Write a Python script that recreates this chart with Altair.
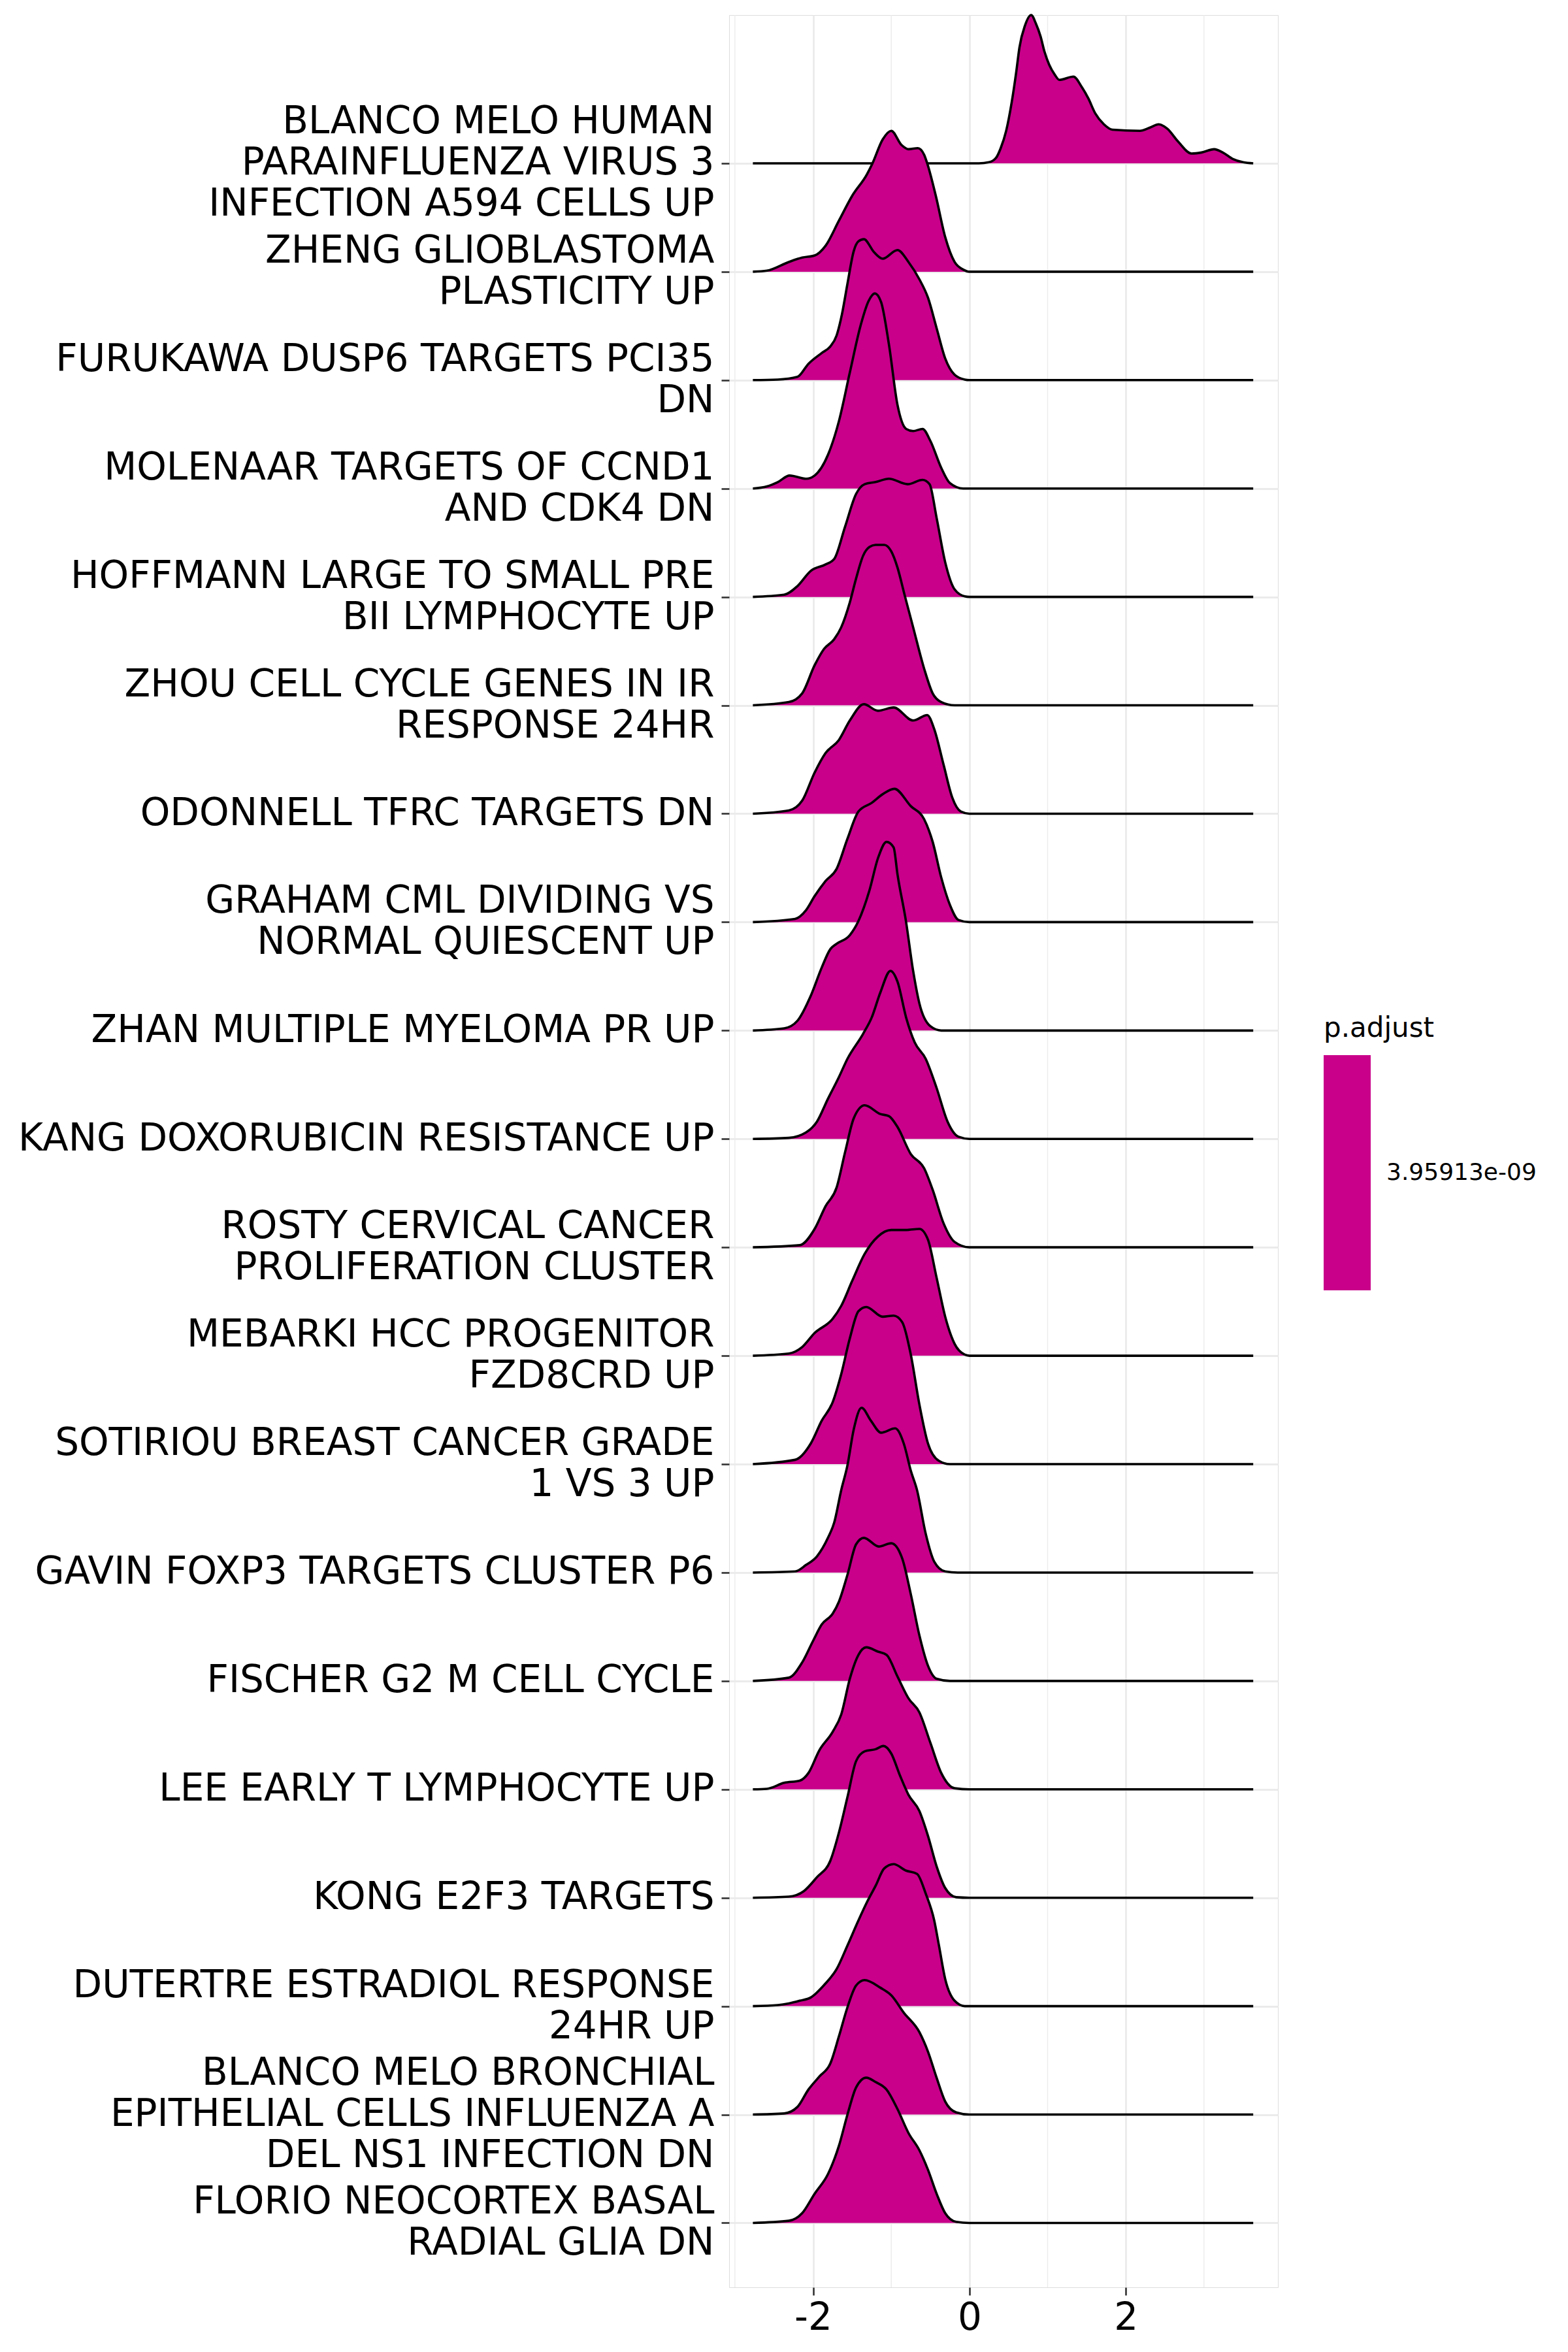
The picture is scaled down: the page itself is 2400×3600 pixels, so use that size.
import altair as alt
import pandas as pd

FILL = "#C8008A"
PADJ = 3.95913e-09
FONT = "DejaVu Sans"

# Category labels, top to bottom ("|" marks a line break)
labels = [
    "BLANCO MELO HUMAN|PARAINFLUENZA VIRUS 3|INFECTION A594 CELLS UP",
    "ZHENG GLIOBLASTOMA|PLASTICITY UP",
    "FURUKAWA DUSP6 TARGETS PCI35|DN",
    "MOLENAAR TARGETS OF CCND1|AND CDK4 DN",
    "HOFFMANN LARGE TO SMALL PRE|BII LYMPHOCYTE UP",
    "ZHOU CELL CYCLE GENES IN IR|RESPONSE 24HR",
    "ODONNELL TFRC TARGETS DN",
    "GRAHAM CML DIVIDING VS|NORMAL QUIESCENT UP",
    "ZHAN MULTIPLE MYELOMA PR UP",
    "KANG DOXORUBICIN RESISTANCE UP",
    "ROSTY CERVICAL CANCER|PROLIFERATION CLUSTER",
    "MEBARKI HCC PROGENITOR|FZD8CRD UP",
    "SOTIRIOU BREAST CANCER GRADE|1 VS 3 UP",
    "GAVIN FOXP3 TARGETS CLUSTER P6",
    "FISCHER G2 M CELL CYCLE",
    "LEE EARLY T LYMPHOCYTE UP",
    "KONG E2F3 TARGETS",
    "DUTERTRE ESTRADIOL RESPONSE|24HR UP",
    "BLANCO MELO BRONCHIAL|EPITHELIAL CELLS INFLUENZA A|DEL NS1 INFECTION DN",
    "FLORIO NEOCORTEX BASAL|RADIAL GLIA DN",
]

# Density curves: x value, ridge height (in row units)
x01 = [-2.77, 0.12, 0.25, 0.34, 0.40, 0.47, 0.54, 0.60, 0.64, 0.71, 0.79, 0.85, 0.91, 0.96, 1.02, 1.09,
       1.15, 1.33, 1.44, 1.52, 1.61, 1.72, 1.83, 2.18, 2.31, 2.42, 2.53, 2.67, 2.84, 2.97, 3.13, 3.24,
       3.37, 3.50, 3.63]
h01 = [0, 0, 0.01, 0.05, 0.14, 0.30, 0.56, 0.85, 1.07, 1.27, 1.368, 1.29, 1.17, 1.03, 0.91, 0.82,
       0.77, 0.80, 0.70, 0.60, 0.46, 0.36, 0.31, 0.30, 0.33, 0.36, 0.32, 0.20, 0.09, 0.10, 0.13, 0.10,
       0.04, 0.01, 0]

x02 = [-2.77, -2.59, -2.31, -2.14, -1.98, -1.84, -1.67, -1.50, -1.31, -1.24, -1.11, -1.00, -0.87,
       -0.78, -0.66, -0.58, -0.54, -0.43, -0.31, -0.19, -0.08, 0.0, 3.63]
h02 = [0, 0.01, 0.09, 0.13, 0.15, 0.24, 0.47, 0.70, 0.90, 1.0, 1.22, 1.30, 1.17,
       1.13, 1.14, 1.08, 1.0, 0.70, 0.32, 0.09, 0.02, 0, 0]

x03 = [-2.77, -2.45, -2.20, -2.06, -1.89, -1.78, -1.70, -1.63, -1.56, -1.48, -1.42, -1.35, -1.22,
       -1.11, -0.92, -0.78, -0.64, -0.53, -0.42, -0.31, -0.19, -0.06, 0.0, 3.63]
h03 = [0, 0.005, 0.03, 0.15, 0.25, 0.31, 0.41, 0.61, 0.89, 1.19, 1.28, 1.30, 1.18,
       1.12, 1.20, 1.09, 0.93, 0.76, 0.48, 0.20, 0.05, 0.005, 0, 0]

x04 = [-2.77, -2.59, -2.45, -2.30, -2.09, -1.98, -1.81, -1.67, -1.53, -1.39, -1.29, -1.21, -1.13,
       -1.03, -0.92, -0.81, -0.72, -0.60, -0.50, -0.36, -0.25, -0.08, 0.0, 3.63]
h04 = [0, 0.02, 0.06, 0.12, 0.09, 0.12, 0.31, 0.62, 1.07, 1.51, 1.73, 1.80, 1.72,
       1.33, 0.77, 0.55, 0.53, 0.55, 0.44, 0.19, 0.05, 0.0, 0, 0]

x05 = [-2.77, -2.37, -2.20, -2.03, -1.84, -1.73, -1.59, -1.45, -1.34, -1.20, -1.03, -0.79, -0.60,
       -0.51, -0.42, -0.31, -0.19, -0.06, 0.0, 3.63]
h05 = [0, 0.02, 0.10, 0.24, 0.30, 0.35, 0.65, 0.95, 1.04, 1.06, 1.09, 1.04, 1.08,
       1.04, 0.73, 0.32, 0.07, 0.005, 0, 0]

x06 = [-2.77, -2.31, -2.14, -1.98, -1.86, -1.73, -1.64, -1.53, -1.45, -1.36, -1.28, -1.20, -1.09,
       -1.00, -0.92, -0.83, -0.72, -0.58, -0.47, -0.36, -0.19, 3.63]
h06 = [0, 0.03, 0.11, 0.37, 0.52, 0.61, 0.72, 0.95, 1.17, 1.38, 1.46, 1.48, 1.48,
       1.42, 1.27, 1.02, 0.72, 0.34, 0.11, 0.03, 0, 0]

x07 = [-2.77, -2.31, -2.14, -1.98, -1.84, -1.67, -1.53, -1.35, -1.17, -0.97, -0.72, -0.54, -0.45,
       -0.33, -0.22, -0.11, 0.0, 3.63]
h07 = [0, 0.03, 0.12, 0.38, 0.56, 0.68, 0.86, 1.01, 0.95, 0.98, 0.86, 0.91, 0.78,
       0.45, 0.15, 0.02, 0, 0]

x08 = [-2.77, -2.23, -2.09, -1.98, -1.84, -1.70, -1.56, -1.42, -1.25, -1.11, -0.96, -0.75, -0.58,
       -0.47, -0.36, -0.25, -0.14, 0.0, 3.63]
h08 = [0, 0.03, 0.11, 0.24, 0.38, 0.49, 0.77, 1.02, 1.10, 1.18, 1.23, 1.07, 0.95,
       0.74, 0.41, 0.16, 0.02, 0, 0]

x09 = [-2.77, -2.37, -2.20, -2.03, -1.89, -1.78, -1.70, -1.53, -1.42, -1.28, -1.17, -1.06, -0.97,
       -0.92, -0.81, -0.72, -0.64, -0.50, -0.36, 3.63]
h09 = [0, 0.02, 0.09, 0.32, 0.58, 0.75, 0.80, 0.88, 1.01, 1.29, 1.59, 1.74, 1.69,
       1.44, 1.00, 0.55, 0.25, 0.04, 0, 0]

x10 = [-2.77, -2.31, -2.09, -1.95, -1.81, -1.67, -1.56, -1.36, -1.25, -1.14, -1.01, -0.92, -0.81,
       -0.70, -0.56, -0.42, -0.28, -0.14, 0.0, 3.63]
h10 = [0, 0.01, 0.06, 0.16, 0.37, 0.57, 0.74, 0.97, 1.12, 1.35, 1.55, 1.45, 1.12,
       0.89, 0.74, 0.47, 0.16, 0.02, 0, 0]

x11 = [-2.77, -2.17, -1.98, -1.84, -1.70, -1.59, -1.48, -1.34, -1.14, -1.03, -0.92, -0.75, -0.58,
       -0.47, -0.33, -0.19, 0.0, 3.63]
h11 = [0, 0.02, 0.17, 0.38, 0.55, 0.88, 1.19, 1.31, 1.23, 1.21, 1.11, 0.86, 0.73,
       0.53, 0.22, 0.05, 0, 0]

x12 = [-2.77, -2.31, -2.14, -1.98, -1.75, -1.64, -1.50, -1.34, -1.17, -1.00, -0.81, -0.64, -0.53,
       -0.42, -0.31, -0.19, -0.06, 0.0, 3.63]
h12 = [0, 0.02, 0.08, 0.21, 0.34, 0.46, 0.69, 0.94, 1.10, 1.16, 1.16, 1.17, 1.07,
       0.72, 0.36, 0.11, 0.01, 0, 0]

x13 = [-2.77, -2.23, -2.03, -1.89, -1.75, -1.64, -1.53, -1.42, -1.32, -1.11, -0.97, -0.86, -0.75,
       -0.64, -0.53, -0.39, -0.25, 3.63]
h13 = [0, 0.04, 0.19, 0.40, 0.57, 0.83, 1.16, 1.41, 1.45, 1.36, 1.37, 1.31, 1.01,
       0.55, 0.19, 0.03, 0, 0]

x14 = [-2.77, -2.23, -2.09, -1.95, -1.81, -1.73, -1.64, -1.56, -1.48, -1.38, -1.26, -1.13, -0.95,
       -0.84, -0.75, -0.67, -0.56, -0.45, -0.31, -0.15, 3.63]
h14 = [0, 0.01, 0.07, 0.15, 0.32, 0.46, 0.76, 0.99, 1.32, 1.52, 1.40, 1.29, 1.33,
       1.19, 0.94, 0.76, 0.36, 0.10, 0.01, 0, 0]

x15 = [-2.77, -2.31, -2.14, -2.00, -1.89, -1.75, -1.67, -1.56, -1.45, -1.35, -1.16, -1.00, -0.86,
       -0.75, -0.64, -0.53, -0.42, -0.25, 3.63]
h15 = [0, 0.03, 0.17, 0.37, 0.52, 0.62, 0.73, 0.98, 1.26, 1.32, 1.24, 1.27, 1.13,
       0.80, 0.42, 0.14, 0.02, 0, 0]

x16 = [-2.77, -2.59, -2.37, -2.17, -2.06, -1.92, -1.75, -1.64, -1.53, -1.42, -1.32, -1.17, -1.06,
       -0.92, -0.78, -0.64, -0.50, -0.36, -0.19, 0.0, 3.63]
h16 = [0, 0.005, 0.06, 0.08, 0.15, 0.36, 0.53, 0.69, 1.02, 1.24, 1.31, 1.27, 1.24,
       1.04, 0.84, 0.71, 0.43, 0.15, 0.01, 0, 0]

x17 = [-2.77, -2.31, -2.12, -1.95, -1.78, -1.67, -1.56, -1.45, -1.34, -1.20, -1.10, -1.00, -0.89,
       -0.78, -0.64, -0.53, -0.42, -0.31, -0.17, 0.0, 3.63]
h17 = [0, 0.01, 0.06, 0.19, 0.34, 0.60, 0.93, 1.26, 1.35, 1.37, 1.40, 1.33, 1.13,
       0.95, 0.80, 0.57, 0.29, 0.09, 0.005, 0, 0]

x18 = [-2.77, -2.45, -2.31, -2.17, -2.03, -1.84, -1.70, -1.56, -1.42, -1.31, -1.20, -1.09, -0.97,
       -0.81, -0.67, -0.56, -0.45, -0.39, -0.31, -0.19, -0.06, 3.63]
h18 = [0, 0.01, 0.025, 0.05, 0.08, 0.21, 0.34, 0.56, 0.79, 0.96, 1.11, 1.27, 1.31,
       1.25, 1.22, 1.04, 0.79, 0.56, 0.25, 0.05, 0, 0]

x19 = [-2.77, -2.37, -2.20, -2.06, -1.92, -1.78, -1.67, -1.56, -1.45, -1.34, -1.14, -1.00, -0.84,
       -0.64, -0.53, -0.42, -0.31, -0.17, 0.0, 3.63]
h19 = [0, 0.01, 0.07, 0.23, 0.35, 0.47, 0.72, 0.99, 1.19, 1.24, 1.17, 1.10, 0.94,
       0.76, 0.58, 0.34, 0.12, 0.02, 0, 0]

x20 = [-2.77, -2.31, -2.14, -1.98, -1.81, -1.67, -1.56, -1.45, -1.32, -1.20, -1.06, -0.92, -0.78,
       -0.64, -0.53, -0.42, -0.31, -0.17, 0.0, 3.63]
h20 = [0, 0.02, 0.09, 0.27, 0.45, 0.71, 1.00, 1.25, 1.34, 1.30, 1.23, 1.05, 0.83,
       0.67, 0.49, 0.27, 0.09, 0.01, 0, 0]

curves = [(x01, h01), (x02, h02), (x03, h03), (x04, h04), (x05, h05), (x06, h06), (x07, h07),
          (x08, h08), (x09, h09), (x10, h10), (x11, h11), (x12, h12), (x13, h13), (x14, h14),
          (x15, h15), (x16, h16), (x17, h17), (x18, h18), (x19, h19), (x20, h20)]

x_ticks = [-2, 0, 2]
x_minor = [-3, -1, 1, 3]

n = len(labels)
rows = []
for i, (xs, hs) in enumerate(curves):
    pos = n - 1 - i
    for xv, hv in zip(xs, hs):
        rows.append({"ridge": i, "x": xv, "top": pos + hv, "base": pos, "padj": PADJ})
df = pd.DataFrame(rows)
minor_df = pd.DataFrame({"x": x_minor})

LABEL_SIZE = 58
LINE_H = 63

labels_bottom_up = list(reversed(labels))
arr = "[" + ",".join("'" + s + "'" for s in labels_bottom_up) + "]"
y_label_expr = "split(" + arr + "[datum.value], '|')"

# shift multi-line labels up so the block is centred on its tick
two_line = [k for k, s in enumerate(labels_bottom_up) if s.count("|") == 1]
three_line = [k for k, s in enumerate(labels_bottom_up) if s.count("|") == 2]
label_offset = {
    "condition": [
        {"test": "indexof(" + str(three_line) + ", datum.value) >= 0", "value": -LINE_H},
        {"test": "indexof(" + str(two_line) + ", datum.value) >= 0", "value": -LINE_H / 2},
    ],
    "value": 0,
}

GRID = "#EBEBEB"
DARK = "#333333"

x_enc = alt.X(
    "x:Q",
    scale=alt.Scale(domain=[-3.074, 3.946], nice=False, zero=False),
    axis=alt.Axis(values=x_ticks, title=None, grid=True, gridColor=GRID, gridWidth=2.8,
                  tickColor=DARK, tickWidth=2.6, tickSize=12, labelFontSize=LABEL_SIZE,
                  labelColor="black", labelPadding=6, domain=False, labelFont=FONT,
                  labelExpr="'' + datum.value"),
)
y_enc = alt.Y(
    "top:Q",
    scale=alt.Scale(domain=[-0.594, 20.368], nice=False, zero=False),
    axis=alt.Axis(values=list(range(n)), title=None, grid=True, gridColor=GRID, gridWidth=2.8,
                  tickColor=DARK, tickWidth=2.6, tickSize=12, labelFontSize=LABEL_SIZE,
                  labelColor="black", labelPadding=11, labelLimit=1400, labelLineHeight=LINE_H,
                  labelOverlap=False, labelBound=False, labelAlign="right", labelBaseline="middle",
                  labelOffset=label_offset,
                  domain=False, labelFont=FONT, labelExpr=y_label_expr),
)
color_enc = alt.Color(
    "padj:Q",
    scale=alt.Scale(domain=[PADJ * 0.999, PADJ * 1.001], range=[FILL, FILL]),
    legend=alt.Legend(title="p.adjust", orient="none", legendX=910, legendY=1531,
                      gradientLength=360, gradientThickness=72, values=[PADJ],
                      labelExpr="'3.95913e-09'", labelFontSize=36, labelColor="black",
                      labelOffset=24, titleFontSize=42, titleColor="black",
                      titleFontWeight="normal", titlePadding=19, gradientStrokeWidth=0,
                      padding=0, direction="vertical", labelFont=FONT, titleFont=FONT),
)

layers = [
    alt.Chart(minor_df).mark_rule(color=GRID, strokeWidth=1.4).encode(x=x_enc)
]
for i in range(n):
    base = alt.Chart(df).transform_filter(alt.datum.ridge == i)
    layers.append(
        base.mark_area(interpolate="monotone", strokeWidth=0).encode(
            x=x_enc, y=y_enc, y2="base:Q", color=color_enc
        )
    )
    layers.append(
        base.mark_line(interpolate="monotone", color="black", strokeWidth=3.6).encode(
            x=x_enc, y=y_enc
        )
    )

chart = alt.layer(*layers).properties(
    width=840,
    height=3478,
    autosize=alt.AutoSizeParams(type="none"),
    padding={"left": 1116, "top": 23, "right": 444, "bottom": 99},
    background="white",
).configure_view(
    stroke=DARK, strokeWidth=2.6
).configure(font=FONT)

chart.save("out.html", embed_options={"renderer": "svg", "actions": False})
